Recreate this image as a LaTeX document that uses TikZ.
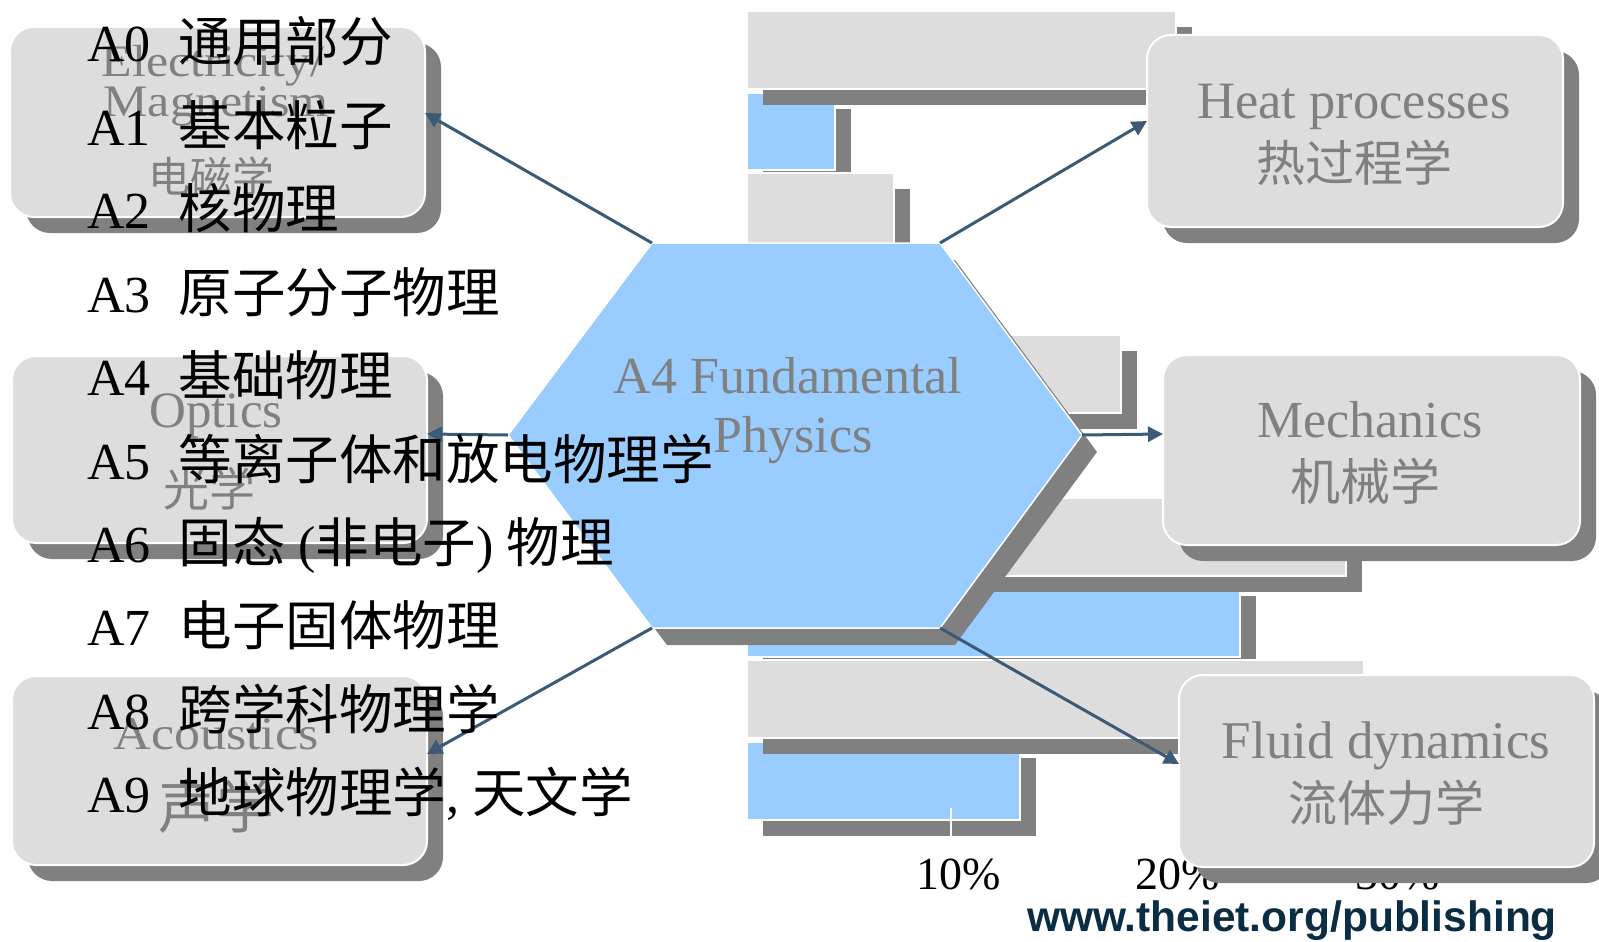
\documentclass[tikz,border=0pt]{standalone}
\usepackage{graphicx}
\usepackage{fontspec}
\setmainfont{Liberation Serif}
\newfontfamily\cjk{Noto Sans CJK SC}
\newfontfamily\sansb{Liberation Sans}
\usetikzlibrary{shadows,arrows.meta}
\definecolor{barGray}{HTML}{DDDDDD}
\definecolor{shadowGray}{HTML}{808080}
\definecolor{hexBlue}{HTML}{99CCFF}
\definecolor{arrowBlue}{HTML}{3A5A76}
\definecolor{labelGray}{HTML}{808080}
\definecolor{urlBlue}{HTML}{0B2D44}
\newcommand{\fs}[1]{\fontsize{#1}{#1}\selectfont}
\newcommand{\cj}[1]{{\cjk\fs{53.5}#1}}
\tikzset{
  every node/.style={inner sep=0pt, outer sep=0pt},
  catbox/.style={draw=white, line width=2pt, fill=barGray, rounded corners=24pt,
    drop shadow={shadow xshift=16pt, shadow yshift=-16pt, fill=shadowGray, opacity=1}},
  bargray/.style={fill=barGray, draw=white, line width=1.5pt},
  barblue/.style={fill=hexBlue, draw=white, line width=1.5pt},
  barshadow/.style={fill=shadowGray},
  hexshape/.style={fill=hexBlue, draw=white, line width=1.5pt, line join=miter},
  arr/.style={draw=arrowBlue, line width=3pt, -{Triangle[length=15pt,width=15pt]}},
  latgray/.style={anchor=base, text=labelGray, font=\fs{52}},
  cjkgray/.style={anchor=center, text=labelGray, font=\cjk\fs{49}},
  listtext/.style={anchor=base west, text=black, font=\fs{52}},
  axislabel/.style={anchor=base, text=black, font=\fs{46}},
}
\begin{document}
\begin{tikzpicture}[x=1pt, y=-1pt]
\useasboundingbox (0,0) rectangle (1599,942);
\fill[white] (0,0) rectangle (1599,942);

% ---------- background bar chart ----------
% category 1
\fill[barshadow] (763,109) rectangle (851,186);
\path[barblue] (747,93) rectangle (835,170);
\fill[barshadow] (763,27) rectangle (1192,105);
\path[bargray] (747,11) rectangle (1176,89);
% category 2
\fill[barshadow] (763,189) rectangle (910,267);
\path[bargray] (747,173) rectangle (894,251);
% category 3
\fill[barshadow] (763,351) rectangle (1137,429);
\path[bargray] (747,335) rectangle (1121,413);
% category 4
\fill[barshadow] (763,596) rectangle (1256,673);
\path[barblue] (747,580) rectangle (1240,657);
\fill[barshadow] (763,514) rectangle (1362,592);
\path[bargray] (747,498) rectangle (1346,576);
% category 5
\fill[barshadow] (763,758) rectangle (1036,836);
\path[barblue] (747,742) rectangle (1020,820);
\fill[barshadow] (763,676) rectangle (1380,754);
\path[bargray] (747,660) rectangle (1364,738);
% tick
\draw[white, line width=2pt] (951,808) -- (951,836);

% axis labels
\node[axislabel] (p10) at (959,889) {10\%};
\node[axislabel] (p20) at (1178,889) {20\%};
\node[axislabel] (p30) at (1398,889) {30\%};

% ---------- hexagon ----------
\coordinate (hTL) at (652,243);
\coordinate (hTR) at (940,243);
\coordinate (hR)  at (1082,435);
\coordinate (hBR) at (940,628);
\coordinate (hBL) at (652,628);
\coordinate (hL)  at (508,435);
\fill[shadowGray, transform canvas={xshift=15pt, yshift=-17pt}]
  (hTL) -- (hTR) -- (hR) -- (hBR) -- (hBL) -- (hL) -- cycle;
\path[hexshape] (hTL) -- (hTR) -- (hR) -- (hBR) -- (hBL) -- (hL) -- cycle;
\node[latgray] (hex1) at (788,393) {A4 Fundamental};
\node[latgray] (hex2) at (793,452) {Physics};

% ---------- category boxes ----------
\node[catbox, minimum width=415pt, minimum height=190pt] (b1) at (217.5,122) {};
\node[catbox, minimum width=415pt, minimum height=187pt] (b2) at (219.5,449.5) {};
\node[catbox, minimum width=415pt, minimum height=189pt] (b3) at (219.5,770.5) {};
\node[catbox, minimum width=416pt, minimum height=192pt] (b4) at (1355,131) {};
\node[catbox, minimum width=417pt, minimum height=190pt] (b5) at (1371.5,450) {};
\node[catbox, minimum width=415pt, minimum height=192pt] (b6) at (1386.5,771) {};

% box texts
\node[latgray, font=\fs{50}] (t1a) at (213,77) {\scalebox{1}[0.9]{Electricity/}};
\node[latgray, font=\fs{50}] (t1b) at (216,116) {\scalebox{1}[0.9]{Magnetism}};
\node[cjkgray, font=\cjk\fs{42}] (t1c) at (211,176) {电磁学};

\node[latgray, font=\fs{51}] (t2a) at (216,427) {Optics};
\node[cjkgray, font=\cjk\fs{46}] (t2b) at (209,489) {光学};

\node[latgray, font=\fs{52}] (t3a) at (216,749) {\scalebox{1}[0.9]{Acoustics}};
\node[cjkgray, font=\cjk\fs{58}] (t3b) at (216,806) {声学};

\node[latgray, font=\fs{52.5}] (t4a) at (1354,118) {Heat processes};
\node[cjkgray] (t4b) at (1354,163) {热过程学};

\node[latgray] (t5a) at (1370,437) {Mechanics};
\node[cjkgray, font=\cjk\fs{50}] (t5b) at (1365,481) {机械学};

\node[latgray, font=\fs{53}] (t6a) at (1386,758) {Fluid dynamics};
\node[cjkgray] (t6b) at (1386,803) {流体力学};

% ---------- connectors ----------
\draw[arr] (hTL) -- ([yshift=9pt]b1.east);
\draw[arr] (hL)  -- ([yshift=15.5pt]b2.east);
\draw[arr] (hBL) -- ([yshift=16.5pt]b3.east);
\draw[arr] (hTR) -- ([yshift=10pt]b4.west);
\draw[arr] (hR)  -- ([yshift=16pt]b5.west);
\draw[arr] (hBR) -- ([yshift=7pt]b6.west);

% ---------- overlay list ----------
\node[listtext] (l0) at (87,62)    {A0\hspace{28pt}\cj{通用部分}};
\node[listtext] (l1) at (87,145.4) {A1\hspace{28pt}\cj{基本粒子}};
\node[listtext] (l2) at (87,228.8) {A2\hspace{28pt}\cj{核物理}};
\node[listtext] (l3) at (87,312.2) {A3\hspace{28pt}\cj{原子分子物理}};
\node[listtext] (l4) at (87,395.6) {A4\hspace{28pt}\cj{基础物理}};
\node[listtext] (l5) at (87,479)   {A5\hspace{28pt}\cj{等离子体和放电物理学}};
\node[listtext] (l6) at (87,562.4) {A6\hspace{28pt}\cj{固态} (\cj{非电子}) \cj{物理}};
\node[listtext] (l7) at (87,645.8) {A7\hspace{28pt}\cj{电子固体物理}};
\node[listtext] (l8) at (87,729.2) {A8\hspace{28pt}\cj{跨学科物理学}};
\node[listtext] (l9) at (87,812.6) {A9\hspace{28pt}\cj{地球物理学}, \cj{天文学}};

% ---------- footer ----------
\node[anchor=base, text=urlBlue, font=\sansb\bfseries\fs{42.5}] (url) at (1292,931) {www.theiet.org/publishing};
\end{tikzpicture}
\end{document}
